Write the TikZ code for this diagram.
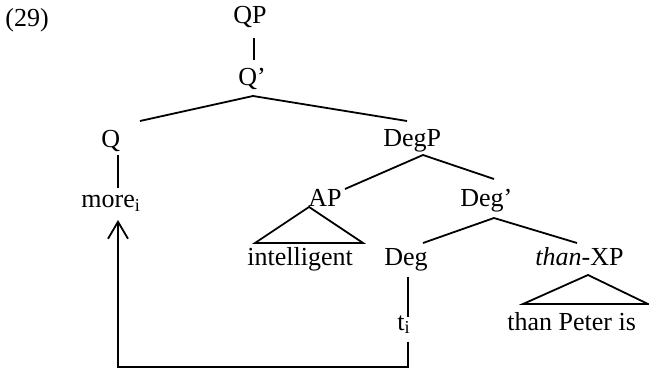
\documentclass[tikz,border=0pt]{standalone}
\usepackage{fontspec}
\setmainfont{Liberation Serif}
\usetikzlibrary{arrows.meta}
\begin{document}
\begin{tikzpicture}[x=0.5pt,y=-0.5pt,
  lab/.style={inner sep=0pt,anchor=base west,font=\fontsize{13pt}{15pt}\selectfont},
  edge/.style={line width=0.9pt},
  mvarrow/.style={line width=0.9pt,-{Straight Barb[length=8.5pt,width=10pt,line width=0.9pt]}}]
\useasboundingbox (0,0) rectangle (649,369);

% labels
\node[lab] (ex)   at (5,27)    {(29)};
\node[lab] (qp)   at (233,24)  {QP};
\node[lab] (qbar) at (238,86)  {Q’};
\node[lab] (q)    at (101,148) {Q};
\node[lab] (degp) at (383,147) {DegP};
\node[lab] (more) at (81,208)  {more\textsubscript{i}};
\node[lab] (ap)   at (308,207) {AP};
\node[lab] (degbar) at (460,206) {Deg’};
\node[lab] (intel) at (247,265) {intelligent};
\node[lab] (deg)  at (384,265) {Deg};
\node[lab] (thanxp) at (535,265) {\textit{than}-XP};
\node[lab] (trace) at (397,330) {t\textsubscript{i}};
\node[lab] (peter) at (507,330) {than Peter is};

% branch end points
\coordinate (qpB)   at (254,38);
\coordinate (qbarT) at (254,60);
\coordinate (qbarB) at (253,96);
\coordinate (qT)    at (140,121);
\coordinate (degpT) at (407,121);
\coordinate (qB)    at (118,155);
\coordinate (moreT) at (118,188);
\coordinate (degpB) at (423,155);
\coordinate (apT)   at (345,189);
\coordinate (degbarT) at (494,179);
\coordinate (apB)   at (309,207);
\coordinate (apL)   at (255,243);
\coordinate (apR)   at (363,243);
\coordinate (degbarB) at (494,218);
\coordinate (degT)  at (423,243);
\coordinate (thanT) at (577,243);
\coordinate (thanB) at (588,275);
\coordinate (thanL) at (523,304);
\coordinate (thanR) at (648,304);
\coordinate (degB)  at (408,277);
\coordinate (traceT) at (408,317);
\coordinate (traceB) at (408,342);
\coordinate (moveR) at (408,367);
\coordinate (moveL) at (118,367);
\coordinate (moreB) at (118,220);

% tree
\draw[edge] (qpB) -- (qbarT);
\draw[edge] (qT) -- (qbarB) -- (degpT);
\draw[edge] (qB) -- (moreT);
\draw[edge] (apT) -- (degpB) -- (degbarT);
\draw[edge] (apB) -- (apL) -- (apR) -- cycle;
\draw[edge] (degT) -- (degbarB) -- (thanT);
\draw[edge] (thanB) -- (thanL) -- (thanR) -- cycle;
\draw[edge] (degB) -- (traceT);

% movement arrow
\draw[mvarrow] (traceB) -- (moveR) -- (moveL) -- (moreB);
\end{tikzpicture}
\end{document}
